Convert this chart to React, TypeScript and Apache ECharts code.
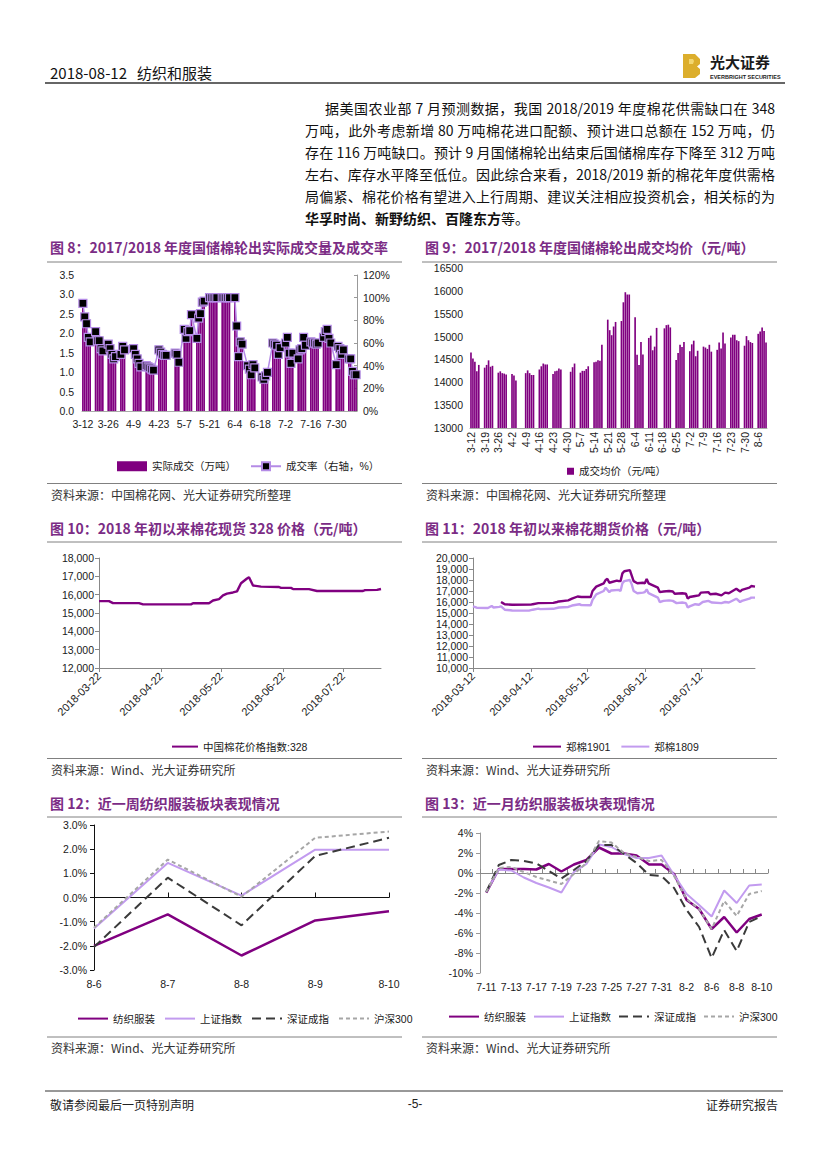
import React, { useEffect, useRef } from 'react';
import * as echarts from 'echarts';

const FONT = "Arial, 'Liberation Sans', 'Noto Sans CJK SC', sans-serif";
const CJK = "'Noto Sans CJK SC', 'Noto Sans', sans-serif";
const TITLE = '#7b2c85';
const PURPLE = '#800080';
const LAVENDER = '#c29bef';

// ---- Figure 8 / 9 : weekly (Mon..Fri) values, weeks of 3-12 ... 8-6 ----
const dealVolumeWeeks: (number | null)[][] = [
  [2.85, 2.49, 2.31, 1.95, 1.83],
  [2.1, 1.86, 1.86, 1.65, 1.59],
  [1.77, 1.65, 1.5, 1.38, 1.44],
  [1.5, 1.71, 1.62, null, null],
  [1.65, 1.5, 1.38, 1.26, 1.17],
  [1.2, 1.17, 1.14, 1.11, 1.08],
  [1.62, 1.56, 1.5, 1.47, 1.47],
  [null, null, 1.53, 1.5, 1.29],
  [2.16, 1.92, 2.1, 2.13, 2.55],
  [1.92, 2.46, 2.58, 2.88, 2.91],
  [3.0, 3.0, 3.0, 3.0, 3.0],
  [3.0, 3.0, 3.0, 3.0, 3.0],
  [3.0, 2.25, 1.44, 1.83, 1.77],
  [1.2, 1.11, 0.96, 1.23, 1.14],
  [null, 0.9, 0.84, 0.93, 1.02],
  [1.8, 1.77, 1.74, 1.5, 1.68],
  [1.8, 1.95, 1.53, 1.26, 1.53],
  [1.38, 1.62, 1.65, 1.95, 1.74],
  [1.83, 1.8, 1.8, 1.77, 1.8],
  [1.95, 2.1, 2.16, 1.92, 1.8],
  [1.23, 1.71, 1.65, 1.5, 1.62],
  [1.38, 1.38, 1.05, 0.96, 0.96],
];
const dealRateWeeks: (number | null)[][] = [
  [95, 83, 77, 65, 61],
  [70, 62, 62, 55, 53],
  [59, 55, 50, 46, 48],
  [50, 57, 54, null, null],
  [55, 50, 46, 42, 39],
  [40, 39, 38, 37, 36],
  [54, 52, 50, 49, 49],
  [null, null, 51, 50, 43],
  [72, 64, 70, 71, 85],
  [64, 82, 86, 96, 97],
  [100, 100, 100, 100, 100],
  [100, 100, 100, 100, 100],
  [100, 75, 48, 61, 59],
  [40, 37, 32, 41, 38],
  [null, 30, 28, 31, 34],
  [60, 59, 58, 50, 56],
  [60, 65, 51, 42, 51],
  [46, 54, 55, 65, 58],
  [61, 60, 60, 59, 60],
  [65, 70, 72, 64, 60],
  [41, 57, 55, 50, 54],
  [46, 46, 35, 32, 32],
];
const avgPriceWeeks: (number | null)[][] = [
  [14650, 14520, 14450, 14240, 14380],
  [14320, 14380, 14480, 14340, 14360],
  [14210, 14240, 14200, 14190, 14170],
  [14180, 14150, 14040, null, null],
  [14200, 14260, 14200, 14160, 14160],
  [14280, 14350, 14410, 14390, 14390],
  [14180, 14240, 14250, 14300, 14280],
  [null, null, 14230, 14330, 14410],
  [14210, 14250, 14250, 14290, 14350],
  [14440, 14450, 14480, 14470, 14820],
  [15370, 15140, 15030, 15220, 15320],
  [15340, 15750, 15970, 15920, 15920],
  [15420, 14600, 14380, 14880, 14610],
  [14970, 15020, 14700, 14780, 15190],
  [null, 15180, 15250, 15260, 15200],
  [14490, 14640, 14820, 14770, 14880],
  [14680, 14830, 14910, 14570, 14690],
  [14780, 14760, 14730, 14820, 14670],
  [14710, 14870, 14740, 15090, 14850],
  [14980, 15040, 15040, 14920, 14900],
  [14800, 15010, 14920, 14880, 14860],
  [15060, 15110, 15200, 15120, 14870],
];

// ---- Figure 10 : 328 spot index ----
const spotTicks = ['2018-03-22', '2018-04-22', '2018-05-22', '2018-06-22', '2018-07-22'];
const spot328: [string, number][] = [
  ['2018-03-22', 15650], ['2018-03-27', 15650], ['2018-03-29', 15540], ['2018-04-11', 15540],
  ['2018-04-13', 15470], ['2018-05-07', 15470], ['2018-05-08', 15530], ['2018-05-16', 15530],
  ['2018-05-18', 15680], ['2018-05-21', 15760], ['2018-05-23', 15960], ['2018-05-25', 16060],
  ['2018-05-28', 16120], ['2018-05-30', 16180], ['2018-06-01', 16620], ['2018-06-04', 16880],
  ['2018-06-05', 16950], ['2018-06-07', 16500], ['2018-06-11', 16440], ['2018-06-20', 16420],
  ['2018-06-21', 16370], ['2018-06-26', 16370], ['2018-06-27', 16310], ['2018-07-05', 16300],
  ['2018-07-09', 16200], ['2018-08-01', 16200], ['2018-08-02', 16250], ['2018-08-08', 16260],
  ['2018-08-10', 16310],
];

// ---- Figure 11 : futures ----
const futTicks = ['2018-03-12', '2018-04-12', '2018-05-12', '2018-06-12', '2018-07-12'];
const zc1901: [string, number][] = [
  ['2018-03-27', 16000], ['2018-03-28', 15900], ['2018-03-29', 15800], ['2018-04-02', 15750],
  ['2018-04-12', 15760], ['2018-04-13', 15800], ['2018-04-16', 15900], ['2018-04-24', 15920],
  ['2018-04-26', 16000], ['2018-04-27', 16050], ['2018-05-02', 16150], ['2018-05-04', 16300],
  ['2018-05-07', 16500], ['2018-05-09', 16450], ['2018-05-14', 16450], ['2018-05-15', 17000],
  ['2018-05-17', 17400], ['2018-05-21', 17700], ['2018-05-22', 18000], ['2018-05-23', 18100],
  ['2018-05-24', 17750], ['2018-05-28', 17950], ['2018-05-29', 17900], ['2018-05-30', 17900],
  ['2018-05-31', 18600], ['2018-06-01', 18800], ['2018-06-04', 18900], ['2018-06-05', 18400],
  ['2018-06-06', 17900], ['2018-06-08', 17700], ['2018-06-11', 17750], ['2018-06-12', 17700],
  ['2018-06-13', 18100], ['2018-06-14', 17700], ['2018-06-19', 17300], ['2018-06-20', 16900],
  ['2018-06-22', 16950], ['2018-06-25', 17000], ['2018-06-27', 16950], ['2018-06-28', 16750],
  ['2018-07-02', 16800], ['2018-07-04', 16750], ['2018-07-05', 16300], ['2018-07-06', 16450],
  ['2018-07-09', 16550], ['2018-07-11', 16600], ['2018-07-12', 16850], ['2018-07-16', 16900],
  ['2018-07-17', 16700], ['2018-07-20', 16750], ['2018-07-23', 16600], ['2018-07-25', 16850],
  ['2018-07-27', 16800], ['2018-07-31', 17200], ['2018-08-02', 16950], ['2018-08-03', 17100],
  ['2018-08-07', 17300], ['2018-08-08', 17450], ['2018-08-10', 17400],
];
const zc1809: [string, number][] = [
  ['2018-03-12', 15600], ['2018-03-14', 15480], ['2018-03-20', 15460], ['2018-03-21', 15550],
  ['2018-03-22', 15640], ['2018-03-23', 15500], ['2018-03-26', 15560], ['2018-03-27', 15600],
  ['2018-03-29', 15300], ['2018-04-02', 15230], ['2018-04-11', 15220], ['2018-04-13', 15300],
  ['2018-04-16', 15400], ['2018-04-17', 15350], ['2018-04-24', 15380], ['2018-04-27', 15500],
  ['2018-05-02', 15550], ['2018-05-04', 15680], ['2018-05-08', 15800], ['2018-05-09', 15720],
  ['2018-05-14', 15700], ['2018-05-15', 16200], ['2018-05-17', 16700], ['2018-05-21', 17000],
  ['2018-05-22', 17300], ['2018-05-24', 16900], ['2018-05-25', 17050], ['2018-05-29', 17100],
  ['2018-05-30', 17000], ['2018-05-31', 17700], ['2018-06-01', 17900], ['2018-06-04', 18000],
  ['2018-06-05', 17600], ['2018-06-06', 17000], ['2018-06-08', 16800], ['2018-06-11', 16850],
  ['2018-06-12', 16900], ['2018-06-13', 17150], ['2018-06-14', 16800], ['2018-06-19', 16400],
  ['2018-06-20', 16000], ['2018-06-22', 16100], ['2018-06-25', 16150], ['2018-06-27', 16100],
  ['2018-06-29', 15900], ['2018-07-02', 15950], ['2018-07-04', 15900], ['2018-07-05', 15500],
  ['2018-07-06', 15600], ['2018-07-09', 15800], ['2018-07-11', 15750], ['2018-07-13', 16000],
  ['2018-07-16', 16100], ['2018-07-18', 15950], ['2018-07-23', 15900], ['2018-07-25', 16000],
  ['2018-07-27', 15950], ['2018-07-31', 16300], ['2018-08-02', 16000], ['2018-08-03', 16100],
  ['2018-08-07', 16300], ['2018-08-08', 16400], ['2018-08-10', 16400],
];

// ---- Figure 12 : last week ----
const weekCats = ['8-6', '8-7', '8-8', '8-9', '8-10'];
const wTextile = [-2.0, -0.7, -2.4, -0.95, -0.57];
const wSH = [-1.28, 1.43, 0.08, 1.98, 1.98];
const wSZ = [-2.05, 0.82, -1.15, 1.72, 2.47];
const wHS300 = [-1.25, 1.57, 0.03, 2.47, 2.73];

// ---- Figure 13 : last month ----
const monthCats = ['7-11', '7-12', '7-13', '7-16', '7-17', '7-18', '7-19', '7-20', '7-23', '7-24', '7-25', '7-26',
  '7-27', '7-30', '7-31', '8-1', '8-2', '8-3', '8-6', '8-7', '8-8', '8-9', '8-10'];
const mTextile = [-1.97, 0.4, 0.4, 0.4, 0.35, 0.9, 0.15, 0.85, 1.3, 2.55, 1.95, 1.95, 1.75, 0.85, 0.85, -0.1, -2.7, -3.6, -5.6, -4.4, -5.95, -4.6, -4.15];
const mSH = [-1.9, 0.35, 0.25, -0.45, -1.0, -1.45, -1.95, 0.1, 0.9, 2.85, 2.6, 1.9, 1.5, 1.5, 1.75, -0.2, -2.1, -3.2, -4.35, -1.75, -3.0, -1.25, -1.15];
const mSZ = [-1.9, 0.8, 1.3, 1.2, 0.95, 0.2, -0.55, 0.3, 1.2, 2.8, 2.8, 1.9, 1.0, -0.2, -0.3, -1.5, -3.7, -5.4, -8.5, -5.7, -7.8, -4.9, -4.3];
const mHS300 = [-1.9, 0.5, 0.6, 0.1, -0.4, -0.75, -1.1, -0.1, 1.0, 3.2, 3.05, 2.0, 1.6, 1.2, 1.3, -0.3, -2.6, -3.6, -5.6, -2.8, -4.3, -2.1, -1.8];

const idxNames = ['纺织服装', '上证指数', '深证成指', '沪深300'];

// ---- helpers ----
const DAYS = 152; // 2018-03-12 .. 2018-08-10
const dayLabels = Array.from({ length: DAYS }, (_, i) => {
  const d = new Date(2018, 2, 12 + i);
  return `${d.getMonth() + 1}-${d.getDate()}`;
});
const fromWeeks = (weeks: (number | null)[][]) =>
  dayLabels.map((_, i) => {
    const w = Math.floor(i / 7);
    const k = i % 7;
    return k < 5 ? weeks[w][k] : null;
  });
const ts = (s: string) => {
  const [y, m, d] = s.split('-').map(Number);
  return new Date(y, m - 1, d).getTime();
};
const fmtDate = (v: number) => {
  const d = new Date(Math.round(v));
  const p = (n: number) => String(n).padStart(2, '0');
  return `${d.getFullYear()}-${p(d.getMonth() + 1)}-${p(d.getDate())}`;
};
const toTs = (arr: [string, number][]) => arr.map(([d, v]) => [ts(d), v]);
const comma = (v: number) => v.toLocaleString('en-US');

const txt = (x: number, y: number, text: string, o: any = {}) => ({
  type: 'text',
  x,
  y,
  silent: true,
  style: {
    text,
    fontSize: o.size ?? 12,
    fontFamily: o.family ?? CJK,
    fontWeight: o.weight ?? 'normal',
    fill: o.color ?? '#222',
    textAlign: o.align ?? 'left',
    align: o.align ?? 'left',
    textVerticalAlign: 'middle',
    verticalAlign: 'middle',
  },
});
const hline = (x1: number, x2: number, y: number, color = '#808080', w = 1) => ({
  type: 'line',
  silent: true,
  shape: { x1, y1: y, x2, y2: y },
  style: { stroke: color, lineWidth: w },
});

const axisLbl = { fontSize: 10.5, color: '#1a1a1a', fontFamily: FONT };
const legendBase = {
  orient: 'horizontal',
  selectedMode: false,
  textStyle: { fontSize: 10.5, color: '#1a1a1a', fontFamily: FONT },
};
// line-only legend icons (hide the symbol drawn by default)
const lineLegend = { ...legendBase, itemStyle: { opacity: 0 } };

const idxStyles = [
  { color: PURPLE, width: 2.5, type: 'solid' },
  { color: LAVENDER, width: 2, type: 'solid' },
  { color: '#3a3a3a', width: 2, type: [9, 5] },
  { color: '#a6a6a6', width: 2, type: [4, 3] },
];

function dateAxis(gridIndex: number, start: string, end: string, ticks: number[]) {
  return {
    type: 'value', gridIndex, min: ts(start), max: ts(end),
    axisLine: { lineStyle: { color: '#888' } },
    axisTick: { show: true, length: 4, customValues: ticks, lineStyle: { color: '#888' } },
    axisLabel: { ...axisLbl, fontSize: 11, rotate: 45, margin: 6, customValues: ticks, formatter: (v: number) => fmtDate(v) },
    splitLine: { show: false },
  };
}

function buildOption() {
  const ticks10 = spotTicks.map(ts);
  const ticks11 = futTicks.map(ts);
  const wSeries = [wTextile, wSH, wSZ, wHS300];
  const mSeries = [mTextile, mSH, mSZ, mHS300];

  const lineSeries = (data: any[], xi: number, yi: number, name: string, s: any) => ({
    type: 'line',
    name,
    xAxisIndex: xi,
    yAxisIndex: yi,
    data,
    symbol: 'none',
    lineStyle: { color: s.color, width: s.width, type: s.type },
    itemStyle: { color: s.color },
  });

  return {
    animation: false,
    textStyle: { fontFamily: FONT },
    grid: [
      { left: 82, top: 275, width: 275, height: 136 },
      { left: 470, top: 268, width: 297, height: 160 },
      { left: 99, top: 558, width: 282, height: 110 },
      { left: 473, top: 558, width: 282, height: 110 },
      { left: 94, top: 825, width: 295, height: 145 },
      { left: 480, top: 833, width: 288, height: 140 },
    ],
    xAxis: [
      {
        type: 'category', gridIndex: 0, data: dayLabels,
        axisLine: { lineStyle: { color: '#aaa' } }, axisTick: { show: false },
        axisLabel: { ...axisLbl, interval: 13, margin: 8 },
      },
      {
        type: 'category', gridIndex: 1, data: dayLabels,
        axisLine: { lineStyle: { color: '#aaa' } }, axisTick: { show: false },
        axisLabel: { ...axisLbl, interval: 6, rotate: 90, margin: 4 },
      },
      dateAxis(2, '2018-03-22', '2018-08-10', ticks10),
      dateAxis(3, '2018-03-12', '2018-08-10', ticks11),
      {
        type: 'category', gridIndex: 4, data: weekCats, boundaryGap: false, position: 'bottom',
        axisLine: { onZero: true, lineStyle: { color: '#111', width: 1 } },
        axisTick: { show: true, inside: true, length: 5, lineStyle: { color: '#111' } },
        axisLabel: { show: false },
      },
      {
        type: 'category', gridIndex: 4, data: weekCats, boundaryGap: false, position: 'bottom',
        axisLine: { show: false, onZero: false }, axisTick: { show: false },
        axisLabel: { ...axisLbl, margin: 9 },
      },
      {
        type: 'category', gridIndex: 5, data: monthCats, boundaryGap: true, position: 'bottom',
        axisLine: { onZero: true, lineStyle: { color: '#888', width: 1 } },
        axisTick: { show: true, inside: true, length: 4, interval: 0, lineStyle: { color: '#888' } },
        axisLabel: { show: false },
      },
      {
        type: 'category', gridIndex: 5, data: monthCats, boundaryGap: true, position: 'bottom',
        axisLine: { show: false, onZero: false }, axisTick: { show: false },
        axisLabel: { ...axisLbl, interval: 1, margin: 9 },
      },
    ],
    yAxis: [
      {
        type: 'value', gridIndex: 0, min: 0, max: 3.5, interval: 0.5,
        axisLine: { show: false }, axisTick: { show: false }, splitLine: { show: false },
        axisLabel: { ...axisLbl, margin: 8, formatter: (v: number) => v.toFixed(1) },
      },
      {
        type: 'value', gridIndex: 0, position: 'right', min: 0, max: 120, interval: 20,
        axisLine: { show: true, lineStyle: { color: '#999' } },
        axisTick: { show: true, inside: true, length: 3, lineStyle: { color: '#999' } },
        splitLine: { show: false },
        axisLabel: { ...axisLbl, margin: 6, formatter: '{value}%' },
      },
      {
        type: 'value', gridIndex: 1, min: 13000, max: 16500, interval: 500,
        axisLine: { show: false }, axisTick: { show: false }, splitLine: { show: false },
        axisLabel: { ...axisLbl, margin: 7, formatter: (v: number) => String(v) },
      },
      {
        type: 'value', gridIndex: 2, min: 12000, max: 18000, interval: 1000,
        axisLine: { show: true, lineStyle: { color: '#888' } },
        axisTick: { show: true, length: 4, lineStyle: { color: '#888' } },
        splitLine: { show: false },
        axisLabel: { ...axisLbl, margin: 5, formatter: comma },
      },
      {
        type: 'value', gridIndex: 3, min: 10000, max: 20000, interval: 1000,
        axisLine: { show: true, lineStyle: { color: '#888' } },
        axisTick: { show: true, length: 4, lineStyle: { color: '#888' } },
        splitLine: { show: false },
        axisLabel: { ...axisLbl, margin: 5, formatter: comma },
      },
      {
        type: 'value', gridIndex: 4, min: -3, max: 3, interval: 1,
        axisLine: { show: true, lineStyle: { color: '#111' } },
        axisTick: { show: true, length: 4, lineStyle: { color: '#111' } },
        splitLine: { show: false },
        axisLabel: { ...axisLbl, margin: 7, formatter: (v: number) => v.toFixed(1) + '%' },
      },
      {
        type: 'value', gridIndex: 5, min: -10, max: 4, interval: 2,
        axisLine: { show: true, lineStyle: { color: '#999' } },
        axisTick: { show: true, length: 4, lineStyle: { color: '#999' } },
        splitLine: { show: false },
        axisLabel: { ...axisLbl, margin: 7, formatter: '{value}%' },
      },
    ],
    legend: [
      {
        ...legendBase, left: 112, top: 456, itemWidth: 30, itemHeight: 10, itemGap: 14,
        data: [{ name: '实际成交（万吨）', icon: 'rect' }, '成交率（右轴，%）'],
      },
      {
        ...legendBase, left: 562, top: 461, itemWidth: 7, itemHeight: 7, itemGap: 4,
        data: [{ name: '成交均价（元/吨）', icon: 'rect' }],
      },
      { ...lineLegend, left: 166, top: 736, itemWidth: 26, itemHeight: 14, data: ['中国棉花价格指数:328'] },
      { ...lineLegend, left: 527, top: 736, itemWidth: 28, itemHeight: 14, itemGap: 10, data: ['郑棉1901', '郑棉1809'] },
      { ...lineLegend, left: 72, top: 1008, itemWidth: 30, itemHeight: 14, itemGap: 9, data: idxNames },
      { ...lineLegend, left: 443, top: 1006, itemWidth: 30, itemHeight: 14, itemGap: 7, data: idxNames },
    ],
    series: [
      {
        type: 'bar', name: '实际成交（万吨）', xAxisIndex: 0, yAxisIndex: 0,
        data: fromWeeks(dealVolumeWeeks), barCategoryGap: '6%',
        itemStyle: { color: PURPLE },
      },
      {
        type: 'line', name: '成交率（右轴，%）', xAxisIndex: 0, yAxisIndex: 1,
        data: fromWeeks(dealRateWeeks), connectNulls: true,
        symbol: 'rect', symbolSize: 8, showSymbol: true, showAllSymbol: true,
        lineStyle: { color: '#b48be6', width: 1.5 },
        itemStyle: { color: '#000', borderColor: '#b48be6', borderWidth: 1.2 },
      },
      {
        type: 'bar', name: '成交均价（元/吨）', xAxisIndex: 1, yAxisIndex: 2,
        data: fromWeeks(avgPriceWeeks), barCategoryGap: '15%',
        itemStyle: { color: PURPLE },
      },
      lineSeries(toTs(spot328), 2, 3, '中国棉花价格指数:328', { color: PURPLE, width: 2.4, type: 'solid' }),
      lineSeries(toTs(zc1901), 3, 4, '郑棉1901', { color: PURPLE, width: 2.4, type: 'solid' }),
      lineSeries(toTs(zc1809), 3, 4, '郑棉1809', { color: LAVENDER, width: 2.4, type: 'solid' }),
      ...wSeries.map((d, i) => lineSeries(d, 4, 5, idxNames[i], idxStyles[i])),
      ...mSeries.map((d, i) => lineSeries(d, 6, 6, idxNames[i], idxStyles[i])),
    ],
    graphic: {
      elements: [
        // header
        txt(50, 72, '2018-08-12   纺织和服装', { size: 15, color: '#111' }),
        hline(45, 785, 83, '#333', 1.6),
        {
          type: 'polygon', silent: true,
          shape: { points: [[683, 54], [695, 54], [700, 59], [700, 64], [697, 66.5], [700, 69], [700, 74], [695, 78], [683, 78]] },
          style: { fill: '#dcae2c' },
        },
        {
          type: 'polygon', silent: true,
          shape: { points: [[689, 59], [693, 59], [694, 61], [693, 64], [689, 64]] },
          style: { fill: '#f3d770' },
        },
        txt(710, 61, '光大证券', { size: 15, weight: 'bold', color: '#1a1a1a' }),
        txt(710, 76.5, 'EVERBRIGHT SECURITIES', { size: 5.5, weight: 'bold', color: '#1a1a1a', family: FONT }),

        // figure 8 / 9
        txt(50, 247, '图 8：2017/2018 年度国储棉轮出实际成交量及成交率', { size: 14, weight: 'bold', color: TITLE }),
        hline(47, 402, 262),
        txt(425, 247, '图 9：2017/2018 年度国储棉轮出成交均价（元/吨）', { size: 14, weight: 'bold', color: TITLE }),
        hline(422, 777, 262),
        hline(47, 402, 483.5),
        hline(422, 777, 483.5),
        txt(51, 494, '资料来源：中国棉花网、光大证券研究所整理', { size: 12, color: '#333' }),
        txt(426, 494, '资料来源：中国棉花网、光大证券研究所整理', { size: 12, color: '#333' }),

        // figure 10 / 11
        txt(50, 528, '图 10：2018 年初以来棉花现货 328 价格（元/吨）', { size: 14, weight: 'bold', color: TITLE }),
        hline(47, 402, 542),
        txt(425, 528, '图 11：2018 年初以来棉花期货价格（元/吨）', { size: 14, weight: 'bold', color: TITLE }),
        hline(422, 777, 542),
        hline(47, 402, 758.5),
        hline(422, 777, 758.5),
        txt(51, 769, '资料来源：Wind、光大证券研究所', { size: 12, color: '#333' }),
        txt(426, 769, '资料来源：Wind、光大证券研究所', { size: 12, color: '#333' }),

        // figure 12 / 13
        txt(50, 803, '图 12：近一周纺织服装板块表现情况', { size: 14, weight: 'bold', color: TITLE }),
        hline(47, 402, 817),
        txt(425, 803, '图 13：近一月纺织服装板块表现情况', { size: 14, weight: 'bold', color: TITLE }),
        hline(422, 777, 817),
        hline(47, 402, 1037),
        hline(422, 777, 1037),
        txt(51, 1047, '资料来源：Wind、光大证券研究所', { size: 12, color: '#333' }),
        txt(426, 1047, '资料来源：Wind、光大证券研究所', { size: 12, color: '#333' }),

        // footer
        hline(45, 783, 1091, '#333', 1),
        txt(50, 1104, '敬请参阅最后一页特别声明', { size: 12, color: '#222' }),
        txt(415, 1104, '-5-', { size: 12, color: '#222', align: 'center', family: FONT }),
        txt(778, 1104, '证券研究报告', { size: 12, color: '#222', align: 'right' }),
      ],
    },
  };
}

const paraLines = [
  { x: 325, y: 108, text: '据美国农业部 7 月预测数据，我国 2018/2019 年度棉花供需缺口在 348' },
  { x: 305, y: 130, text: '万吨，此外考虑新增 80 万吨棉花进口配额、预计进口总额在 152 万吨，仍' },
  { x: 305, y: 152, text: '存在 116 万吨缺口。预计 9 月国储棉轮出结束后国储棉库存下降至 312 万吨' },
  { x: 305, y: 174, text: '左右、库存水平降至低位。因此综合来看，2018/2019 新的棉花年度供需格' },
  { x: 305, y: 196, text: '局偏紧、棉花价格有望进入上行周期、建议关注相应投资机会，相关标的为' },
];

export default function App() {
  const ref = useRef<HTMLDivElement>(null);
  useEffect(() => {
    if (!ref.current) return;
    const chart = echarts.init(ref.current, null, { renderer: 'svg', width: 827, height: 1169 });
    try {
      chart.setOption(buildOption() as any);
    } catch (e) {
      console.error(e);
    }
    return () => chart.dispose();
  }, []);
  const pStyle: React.CSSProperties = {
    position: 'absolute',
    fontFamily: CJK,
    fontSize: 14,
    lineHeight: '22px',
    height: 22,
    color: '#111',
    whiteSpace: 'nowrap',
    textAlign: 'justify',
    textAlignLast: 'justify' as any,
  };
  return (
    <div style={{ position: 'absolute', left: 0, top: 0, width: 827, height: 1169, background: '#fff', overflow: 'hidden' }}>
      <div ref={ref} style={{ position: 'absolute', left: 0, top: 0, width: 827, height: 1169 }} />
      {paraLines.map((l, i) => (
        <div key={i} style={{ ...pStyle, left: l.x, top: l.y - 11, width: 775 - l.x }}>{l.text}</div>
      ))}
      <div style={{ ...pStyle, left: 305, top: 218 - 11, textAlign: 'left', textAlignLast: 'left' as any }}>
        <b>华孚时尚、新野纺织、百隆东方</b>等。
      </div>
    </div>
  );
}
